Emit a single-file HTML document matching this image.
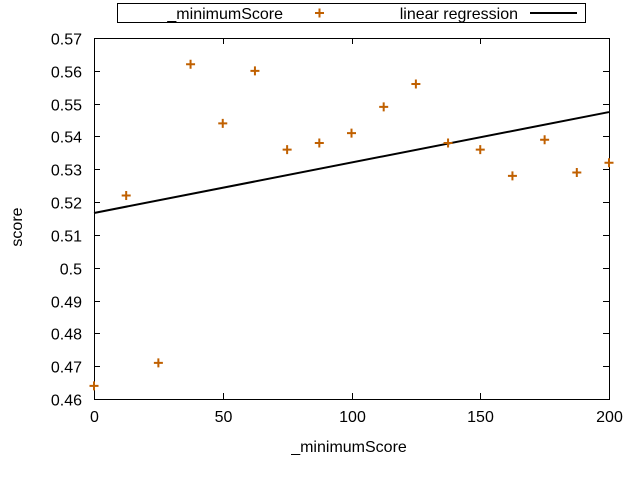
<!DOCTYPE html>
<html><head><meta charset="utf-8"><style>
body{margin:0;background:#fff;}
svg text{font-family:"Liberation Sans",sans-serif;font-size:16px;fill:#000;}
</style></head><body>
<svg id="chart" width="640" height="480" xmlns="http://www.w3.org/2000/svg">
<rect width="640" height="480" fill="#fff"/>
<g id="axes"></g>
<g id="marks"></g>
<g>
<rect x="117.5" y="3.5" width="468" height="19" fill="none" stroke="#000"/>
<text x="283" y="19" text-anchor="end">_minimumScore</text>
<path d="M315 13h9M319.5 8.5v9" stroke="#c06000" stroke-width="2"/>
<text x="518" y="19" text-anchor="end">linear regression</text>
<path d="M530 13h47" stroke="#000" stroke-width="2"/>
</g>
<text x="349" y="452" text-anchor="middle">_minimumScore</text>
<text transform="translate(22,227) rotate(-90)" text-anchor="middle">score</text>
</svg>
<script>
const xValues=[0,12.5,25,37.5,50,62.5,75,87.5,100,112.5,125,137.5,150,162.5,175,187.5,200];
const yValues=[0.464,0.522,0.471,0.562,0.544,0.560,0.536,0.538,0.541,0.549,0.556,0.538,0.536,0.528,0.539,0.529,0.532];
const xTicks=[0,50,100,150,200];
const yTicks=[0.46,0.47,0.48,0.49,0.5,0.51,0.52,0.53,0.54,0.55,0.56,0.57];
const yTickLabels=["0.46","0.47","0.48","0.49","0.5","0.51","0.52","0.53","0.54","0.55","0.56","0.57"];
const L=94,R=609,T=38,B=399,xmin=0,xmax=200,ymin=0.46,ymax=0.57;
const sx=v=>L+(v-xmin)/(xmax-xmin)*(R-L);
const sy=v=>B-(v-ymin)/(ymax-ymin)*(B-T);
const NS="http://www.w3.org/2000/svg";
const axes=document.getElementById('axes'),marks=document.getElementById('marks');
function mk(tag,attrs,parent){const e=document.createElementNS(NS,tag);for(const k in attrs)e.setAttribute(k,attrs[k]);parent.appendChild(e);return e;}
const frame=mk('rect',{x:L+.5,y:T+.5,width:R-L,height:B-T,fill:'none',stroke:'#000'},axes);


xTicks.forEach(v=>{const x=Math.round(sx(v))+.5;
 const t=mk('path',{d:`M${x} ${B}v-6M${x} ${T}v6`,stroke:'#000'},axes);
 
 
 const l=mk('text',{x:x,y:B+23,'text-anchor':'middle'},axes);l.textContent=v;
 
 });
yTicks.forEach((v,i)=>{const y=Math.round(sy(v))+.5;
 const t=mk('path',{d:`M${L} ${y}h6M${R} ${y}h-6`,stroke:'#000'},axes);
 
 
 const l=mk('text',{x:L-12,y:y+6,'text-anchor':'end'},axes);l.textContent=yTickLabels[i];
 
 });
const n=xValues.length;const mx=xValues.reduce((a,b)=>a+b)/n,my=yValues.reduce((a,b)=>a+b)/n;
let sxy=0,sxx=0;for(let i=0;i<n;i++){sxy+=(xValues[i]-mx)*(yValues[i]-my);sxx+=(xValues[i]-mx)**2;}
const m=sxy/sxx,b=my-m*mx;
const line=mk('line',{x1:sx(xmin),y1:sy(b+m*xmin),x2:sx(xmax),y2:sy(b+m*xmax),stroke:'#000','stroke-width':2},marks);


xValues.forEach((v,i)=>{const x=sx(v),y=sy(yValues[i]);
 const p=mk('path',{d:`M${x-4.5} ${y}h9M${x} ${y-4.5}v9`,stroke:'#c06000','stroke-width':2},marks);
 
 });
</script>
</body></html>
